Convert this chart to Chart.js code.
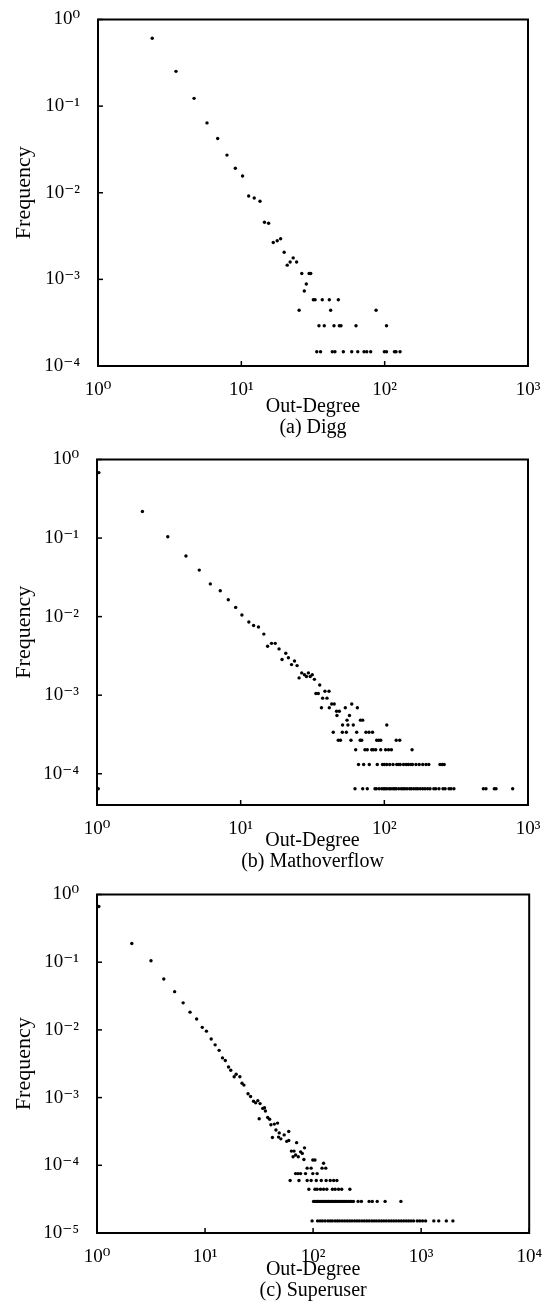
<!DOCTYPE html>
<html>
<head>
<meta charset="utf-8">
<script src="https://cdn.jsdelivr.net/npm/chart.js@4.4.0/dist/chart.umd.min.js"></script>
<style>
  body { margin: 0; background: #fff; }
  #wrap { position: relative; width: 549px; height: 1301px; }
  canvas { position: absolute; left: 0; }
</style>
</head>
<body>
<div id="wrap">
  <canvas id="graficoDigg" width="549" height="440" style="top:0px"></canvas>
  <canvas id="graficoMath" width="549" height="435" style="top:440px"></canvas>
  <canvas id="graficoSuper" width="549" height="426" style="top:875px"></canvas>
</div>
<script>
/* (a) DIGG */
var diggDegree = [2.39, 3.50, 4.68, 5.76, 6.84, 7.94, 9.08, 10.2, 11.25, 12.3,
  13.5, 14.5, 15.5, 16.7, 17.8, 18.8, 19.9, 20.9, 21.9, 23.0,
  24.3, 26.4, 27.5, 28.4, 29.7, 30.5];
var diggFreq = [0.607, 0.252, 0.123, 0.0640, 0.0423, 0.0272, 0.0192, 0.0156, 0.00918, 0.00871,
  0.00798, 0.00457, 0.00445, 0.00267, 0.00279, 0.00294, 0.00206, 0.00146, 0.00159, 0.00177,
  0.00159, 0.00117, 0.000733, 0.000885, 0.00117, 0.00117];
// tail: same frequency for several degrees
var diggLevels = [0.000581, 0.000441, 0.000291, 0.000146];
var diggLevelDegree = [
  [31.8, 32.7, 36.7, 41.1, 47.5],
  [25.3, 42.0, 87.1],
  [34.8, 37.9, 44.3, 48.3, 49.6, 63.1, 103],
  [33.6, 35.7, 43.1, 45.0, 51.5, 58.9, 64.9, 71.8, 75.0, 79.9, 99.5, 103, 117, 120, 128]
];

/* (b) MATHOVERFLOW */
var mathDegree = [1.03, 2.07, 3.11, 4.16, 5.15, 6.15, 7.21, 8.20, 9.23, 10.2,
  11.4, 12.3, 13.3, 14.5, 15.4, 16.4, 17.4, 18.5, 19.4, 20.6,
  21.5, 22.6, 23.7, 24.7, 25.5, 26.6, 27.8, 28.7, 29.6, 30.5,
  31.5, 32.6, 33.4, 34.7, 35.5, 37.2, 39.9, 38.6, 41.2, 36.5,
  41.4, 43.0, 44.8, 46.5, 48.6, 46.8, 53.5, 59.3, 64.9, 55.0,
  57.2, 51.2, 55.8, 60.8, 68.2, 70.7, 104];
var mathFreq = [0.681, 0.218, 0.104, 0.0591, 0.0391, 0.0261, 0.0213, 0.0164, 0.0131, 0.0105,
  0.00854, 0.00772, 0.00739, 0.00599, 0.00419, 0.00457, 0.00457, 0.00388, 0.00285, 0.00342,
  0.00299, 0.00245, 0.00272, 0.00238, 0.00166, 0.00192, 0.00182, 0.00173, 0.00192, 0.00173,
  0.00182, 0.00159, 0.00105, 0.00105, 0.00135, 0.000917, 0.000917, 0.00112, 0.00112, 0.000693,
  0.000693, 0.000771, 0.000771, 0.000623, 0.000623, 0.000551, 0.000693, 0.000771, 0.000693, 0.000481,
  0.000551, 0.000418, 0.000418, 0.000418, 0.000481, 0.000481, 0.000418];
var mathLevels = [0.000337, 0.000267, 0.000202, 0.000131, 0.0000645];
var mathLevelDegree = [
  [44.1, 51.0, 54.4, 64.2, 74.5, 78.2, 82.8],
  [47.8, 49.5, 58.6, 67.9, 69.6, 88.5, 91.4, 94.4, 121, 128],
  [63.2, 73.3, 76.1, 81.7, 83.8, 87.1, 94.4, 102, 107, 112, 156],
  [66.1, 71.8, 78.6, 89.3, 97.1, 100, 104, 109, 115, 122, 126, 129, 136, 142, 147, 153, 157,
   166, 175, 185, 195, 204, 244, 253, 261],
  [1.02, 62.5, 70.7, 76.1, 86.1, 88, 92, 96, 99, 101, 104, 108, 111, 115, 118, 121, 126, 131,
   135, 139, 144, 150, 154, 160, 166, 171, 178, 185, 192, 200, 208, 221, 228, 240, 256, 265,
   282, 291, 305, 489, 510, 583, 599, 782]
];

/* (c) SUPERUSER */
var superDegree = [1.04, 2.10, 3.16, 4.15, 5.23, 6.27, 7.26, 8.36, 9.43, 10.3,
  11.4, 12.4, 13.5, 14.5, 15.4, 16.5, 17.3, 18.6, 19.4, 21.0,
  22.0, 22.9, 25.0, 26.4, 28.1, 29.4, 30.8, 32.3, 31.7, 34.2,
  36.2, 35.5, 38.0, 39.6, 40.7, 43.8, 46.9, 42.0, 47.9, 50.3,
  45.3, 48.6, 54.0, 57.0, 59.5, 59.5, 70.4, 63.0, 66.6, 76.6,
  65.3, 68.9, 72.9, 83.3, 79.4, 82.2, 125];
var superFreq = [0.664, 0.189, 0.105, 0.0566, 0.0367, 0.0251, 0.0183, 0.0145, 0.0109, 0.00958,
  0.00734, 0.00601, 0.00499, 0.00386, 0.00353, 0.00283, 0.00253, 0.00203, 0.00221, 0.00203,
  0.00163, 0.00153, 0.00114, 0.00104, 0.000885, 0.000836, 0.000902, 0.000816, 0.000486, 0.000692,
  0.000634, 0.000708, 0.000507, 0.000480, 0.000398, 0.000406, 0.000420, 0.000258, 0.000261, 0.000246,
  0.000333, 0.000301, 0.000281, 0.000226, 0.000233, 0.000315, 0.000216, 0.000162, 0.000162, 0.000158,
  0.000134, 0.000142, 0.000134, 0.000181, 0.000150, 0.000122, 0.000107];
var superLevels = [0.000120, 0.0000908, 0.0000754, 0.0000597, 0.0000443, 0.0000293, 0.0000151];
var superLevelDegree = [
  [99.4, 104],
  [88.1, 95.9, 121, 131],
  [68.9, 72.5, 76.6, 85.1, 99.4, 109],
  [61.3, 74.0, 88.1, 95.9, 107, 119, 132, 144, 155, 166],
  [91.4, 104, 109, 117, 125, 134, 151, 160, 172, 184, 219],
  [101, 104, 107, 110, 113, 116, 120, 124, 127, 131, 135, 139, 143, 148, 152, 157, 162, 167,
   173, 178, 184, 190, 197, 203, 212, 220, 228, 236, 261, 280, 330, 353, 392, 464, 650],
  [97.9, 110, 116, 122, 129, 137, 144, 151, 160, 168, 176, 186, 196, 207, 218, 229, 242, 255,
   268, 283, 298, 314, 330, 349, 367, 386, 408, 430, 452, 476, 503, 530, 558, 588, 620, 655,
   690, 728, 766, 808, 852, 920, 970, 1030, 1100, 1310, 1455, 1710, 1968]
];

var serif = "'Liberation Serif', 'DejaVu Serif', serif";
var sup = {'0': '\u2070', '1': '\u00b9', '2': '\u00b2', '3': '\u00b3', '4': '\u2074', '5': '\u2075', '-': '\u207b'};

function buildPoints(deg, freq, levels, levelDeg) {
  var pts = deg.map(function (d, i) { return {x: d, y: freq[i]}; });
  levels.forEach(function (f, i) {
    levelDeg[i].forEach(function (d) { pts.push({x: d, y: f}); });
  });
  return pts;
}

function isDecade(v) {
  var l = Math.log10(v);
  return Math.abs(l - Math.round(l)) < 1e-6;
}

function powLabel(v) {
  var e = String(Math.round(Math.log10(v)));
  return '10' + e.split('').map(function (c) { return sup[c]; }).join('');
}

function keepDecades(axis) {
  axis.ticks = axis.ticks.filter(function (t) { return isDecade(t.value); });
}

// box round the plot + small inward ticks
var frame = {
  id: 'frame',
  afterDraw: function (chart) {
    var ctx = chart.ctx, a = chart.chartArea;
    var xs = chart.scales.x, ys = chart.scales.y;
    ctx.save();
    ctx.strokeStyle = '#000';
    ctx.lineWidth = 1.5;
    xs.ticks.forEach(function (t) {
      var px = xs.getPixelForValue(t.value);
      ctx.beginPath(); ctx.moveTo(px, a.bottom); ctx.lineTo(px, a.bottom - 5); ctx.stroke();
    });
    ys.ticks.forEach(function (t) {
      var py = ys.getPixelForValue(t.value);
      ctx.beginPath(); ctx.moveTo(a.left, py); ctx.lineTo(a.left + 5, py); ctx.stroke();
    });
    ctx.lineWidth = 2;
    ctx.strokeRect(a.left, a.top, a.right - a.left, a.bottom - a.top);
    ctx.restore();
  }
};

function buildChart(id, points, o) {
  var ctx = document.getElementById(id).getContext('2d');
  return new Chart(ctx, {
    type: 'scatter',
    data: {
      datasets: [{
        data: points,
        pointRadius: 1.7,
        pointBackgroundColor: '#000',
        pointBorderWidth: 0,
        clip: false
      }]
    },
    options: {
      responsive: false,
      animation: false,
      layout: { padding: { top: o.top, right: o.right, bottom: 0, left: 0 } },
      plugins: { legend: { display: false }, tooltip: { enabled: false } },
      scales: {
        x: {
          type: 'logarithmic', min: 1, max: o.xMax,
          grid: { display: false }, border: { display: false },
          afterBuildTicks: keepDecades,
          afterFit: function (s) { s.height = o.xAxisH; },
          ticks: {
            color: '#000', padding: 7, maxRotation: 0, autoSkip: false,
            font: { family: serif, size: 19, lineHeight: 1 },
            callback: function (v) { return powLabel(v); }
          },
          title: {
            display: true, text: ['Out-Degree', o.caption], color: '#000',
            font: { family: serif, size: 20, lineHeight: 1.05 },
            padding: { top: 0, bottom: o.capPad }
          }
        },
        y: {
          type: 'logarithmic', min: o.yMin, max: 1,
          grid: { display: false }, border: { display: false },
          afterBuildTicks: keepDecades,
          afterFit: function (s) { s.width = o.yAxisW; },
          ticks: {
            color: '#000', padding: 10, autoSkip: false,
            font: { family: serif, size: 19, lineHeight: 1 },
            callback: function (v) { return powLabel(v); }
          },
          title: {
            display: true, text: 'Frequency', color: '#000',
            font: { family: serif, size: 22 },
            padding: { top: 11, bottom: 0 }
          }
        }
      }
    },
    plugins: [frame]
  });
}

buildChart('graficoDigg', buildPoints(diggDegree, diggFreq, diggLevels, diggLevelDegree), {
  top: 10, right: 21, xMax: 1000, yMin: 1e-4, xAxisH: 74, yAxisW: 98, caption: '(a) Digg', capPad: 1.5
});
buildChart('graficoMath', buildPoints(mathDegree, mathFreq, mathLevels, mathLevelDegree), {
  top: 14, right: 21, xMax: 1000, yMin: 4e-5, xAxisH: 70, yAxisW: 97, caption: '(b) Mathoverflow', capPad: 2.5
});
buildChart('graficoSuper', buildPoints(superDegree, superFreq, superLevels, superLevelDegree), {
  top: 12, right: 14, xMax: 10000, yMin: 1e-5, xAxisH: 68, yAxisW: 97, caption: '(c) Superuser', capPad: 0
});
</script>
</body>
</html>
